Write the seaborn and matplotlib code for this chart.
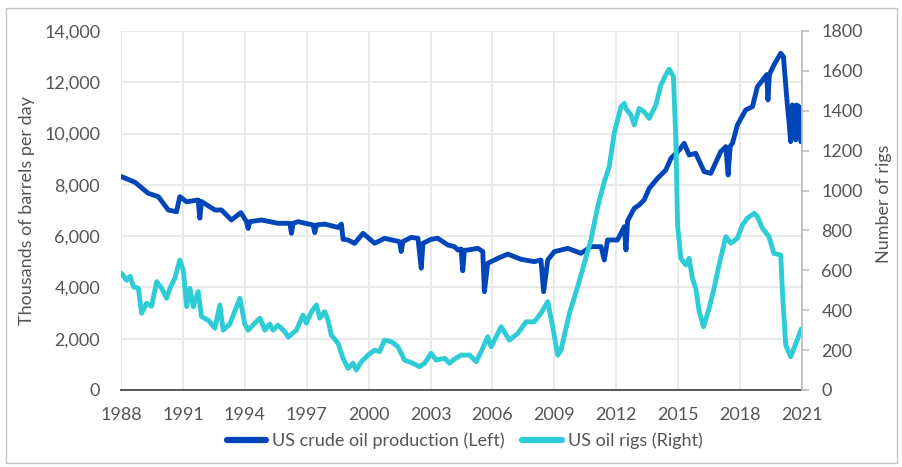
import matplotlib
matplotlib.use("Agg")
import matplotlib.pyplot as plt
import seaborn as sns
import pandas as pd
from matplotlib.patches import Rectangle
from matplotlib.ticker import FuncFormatter
from matplotlib.lines import Line2D

# ---- data ----
prod_year = [1988.03, 1988.68, 1989.32, 1989.81, 1990.29, 1990.69, 1990.85, 1991.18,
             1991.74, 1991.82, 1991.90, 1992.55, 1992.87, 1993.35, 1993.81, 1994.08,
             1994.16, 1994.24, 1994.81, 1995.61, 1995.94, 1996.18, 1996.26, 1996.34,
             1996.58, 1997.31, 1997.39, 1997.47, 1997.87, 1998.52, 1998.68, 1998.76,
             1999.00, 1999.32, 1999.73, 2000.29, 2000.77, 2001.50, 2001.58, 2001.66,
             2002.06, 2002.39, 2002.55, 2002.63, 2003.03, 2003.35, 2003.84, 2004.16,
             2004.32, 2004.48, 2004.56, 2004.64, 2004.81, 2005.29, 2005.53, 2005.61,
             2005.77, 2006.26, 2006.74, 2007.39, 2008.03, 2008.35, 2008.48, 2008.68,
             2009.00, 2009.65, 2010.29, 2010.77, 2011.26, 2011.42, 2011.58, 2012.06,
             2012.39, 2012.47, 2012.55, 2012.87, 2013.11, 2013.35, 2013.60, 2014.00,
             2014.40, 2014.65, 2015.05, 2015.29, 2015.53, 2015.85, 2016.26, 2016.58,
             2017.06, 2017.31, 2017.42, 2017.52, 2017.63, 2017.87, 2018.27, 2018.60,
             2018.84, 2019.16, 2019.29, 2019.35, 2019.42, 2019.64, 2019.97, 2020.10,
             2020.29, 2020.37, 2020.45, 2020.53, 2020.65, 2020.69, 2020.74, 2020.85,
             2020.94]
prod_kbd = [8320, 8100, 7670, 7540, 7020, 6950, 7540, 7340,
            7410, 6700, 7350, 7020, 7020, 6630, 6915, 6565,
            6300, 6565, 6630, 6500, 6500, 6500, 6110, 6500,
            6565, 6435, 6140, 6435, 6470, 6340, 6470, 5880,
            5850, 5720, 6110, 5720, 5915, 5785, 5400, 5785,
            5950, 5915, 4750, 5720, 5880, 5915, 5655, 5590,
            5460, 5500, 4650, 5450, 5460, 5525, 5400, 3835,
            4940, 5135, 5300, 5095, 5005, 5070, 3835, 5070,
            5395, 5525, 5330, 5590, 5590, 5070, 5850, 5850,
            6370, 5460, 6600, 7085, 7215, 7410, 7865, 8256,
            8580, 9036, 9360, 9620, 9165, 9230, 8515, 8450,
            9295, 9490, 8385, 9500, 9620, 10335, 10920, 11050,
            11830, 12155, 12300, 11310, 12300, 12675, 13130, 13000,
            11115, 10465, 9685, 11115, 11000, 9750, 11115, 11050,
            9685]

rig_year = [1988.03, 1988.27, 1988.44, 1988.60, 1988.84, 1989.00, 1989.24, 1989.48,
            1989.73, 1989.97, 1990.21, 1990.37, 1990.61, 1990.85, 1991.02, 1991.18,
            1991.34, 1991.50, 1991.74, 1991.90, 1992.23, 1992.55, 1992.79, 1992.95,
            1993.27, 1993.76, 1994.00, 1994.16, 1994.48, 1994.73, 1994.97, 1995.21,
            1995.37, 1995.61, 1995.94, 1996.10, 1996.50, 1996.82, 1996.98, 1997.23,
            1997.47, 1997.63, 1997.87, 1998.03, 1998.19, 1998.52, 1998.76, 1999.00,
            1999.24, 1999.40, 1999.65, 1999.97, 2000.29, 2000.53, 2000.77, 2001.10,
            2001.42, 2001.74, 2002.14, 2002.47, 2002.71, 2003.03, 2003.27, 2003.68,
            2003.92, 2004.16, 2004.48, 2004.89, 2005.21, 2005.45, 2005.77, 2005.94,
            2006.42, 2006.82, 2007.23, 2007.63, 2008.03, 2008.35, 2008.68, 2008.92,
            2009.16, 2009.32, 2009.73, 2010.13, 2010.45, 2010.77, 2011.10, 2011.42,
            2011.66, 2011.90, 2012.23, 2012.39, 2012.47, 2012.71, 2012.87, 2013.11,
            2013.35, 2013.60, 2013.92, 2014.16, 2014.40, 2014.56, 2014.77, 2014.89,
            2014.97, 2015.13, 2015.37, 2015.53, 2015.69, 2015.85, 2016.02, 2016.23,
            2016.50, 2016.74, 2016.98, 2017.31, 2017.55, 2017.87, 2018.11, 2018.35,
            2018.68, 2018.84, 2019.08, 2019.40, 2019.64, 2019.97, 2020.05, 2020.21,
            2020.45, 2020.61, 2020.97]
rig_count = [585, 550, 570, 518, 510, 385, 435, 420,
             543, 510, 460, 510, 560, 652, 600, 418,
             510, 418, 493, 368, 350, 310, 426, 300,
             330, 460, 330, 300, 335, 360, 300, 330,
             300, 325, 292, 265, 300, 376, 335, 393,
             426, 360, 393, 350, 276, 234, 159, 109,
             134, 100, 142, 175, 200, 192, 250, 242,
             217, 150, 134, 117, 134, 184, 150, 159,
             134, 155, 175, 175, 142, 192, 267, 217,
             317, 250, 284, 342, 342, 385, 443, 317,
             175, 200, 385, 518, 635, 752, 919, 1044,
             1120, 1287, 1420, 1437, 1410, 1379, 1329, 1412,
             1395, 1362, 1429, 1529, 1579, 1609, 1571, 1245,
             827, 660, 627, 660, 560, 510, 393, 317,
             410, 510, 627, 769, 736, 761, 827, 861,
             886, 869, 811, 769, 685, 677, 493, 226,
             167, 209, 306]

x_ticks = [1988, 1991, 1994, 1997, 2000, 2003, 2006, 2009, 2012, 2015, 2018, 2021]
left_ticks = [0, 2000, 4000, 6000, 8000, 10000, 12000, 14000]
right_ticks = [0, 200, 400, 600, 800, 1000, 1200, 1400, 1600, 1800]

prod_label = "US crude oil production (Left)"
rig_label = "US oil rigs (Right)"

df_prod = pd.DataFrame({"year": prod_year, "value": prod_kbd})
df_rig = pd.DataFrame({"year": rig_year, "value": rig_count})

# ---- styling ----
sns.set_theme(style="white")
plt.rcParams["font.family"] = ["Lato", "DejaVu Sans"]
TXT = "#555555"
BLUE = "#0046B8"
CYAN = "#2ECDD5"

W, H = 902, 467
fig = plt.figure(figsize=(W / 100, H / 100), dpi=100)
ax = fig.add_axes([121 / W, 1 - 390 / H, (802 - 121) / W, (390 - 31) / H])

sns.lineplot(data=df_prod, x="year", y="value", ax=ax, color=BLUE, lw=3.5,
             estimator=None, sort=False, legend=False)
ax.set_xlim(1988, 2021)
ax.set_ylim(0, 14000)
ax.set_xticks(x_ticks)
ax.set_yticks(left_ticks)
ax.yaxis.set_major_formatter(FuncFormatter(lambda v, p: f"{int(v):,}"))
ax.grid(True, color="#e6e8e8", lw=1.3)
ax.set_axisbelow(True)
for s in ["top", "left", "right"]:
    ax.spines[s].set_visible(False)
ax.spines["bottom"].set_color("#555555")
ax.spines["bottom"].set_linewidth(1.4)
ax.tick_params(axis="x", length=0, pad=12, labelsize=13, labelcolor=TXT)
ax.tick_params(axis="y", length=0, pad=15, labelsize=13, labelcolor=TXT)
ax.set_xlabel("")
ax.set_ylabel("Thousands of barrels per day", fontsize=13, color=TXT)
ax.yaxis.set_label_coords(-0.127, 0.5)

ax2 = ax.twinx()
sns.lineplot(data=df_rig, x="year", y="value", ax=ax2, color=CYAN, lw=3.5,
             estimator=None, sort=False, legend=False)
ax2.set_ylim(0, 1800)
ax2.set_yticks(right_ticks)
ax2.grid(False)
for s in ["top", "left", "bottom"]:
    ax2.spines[s].set_visible(False)
ax2.spines["right"].set_color("#bdbdbd")
ax2.spines["right"].set_linewidth(1.3)
ax2.tick_params(axis="y", direction="out", length=5, width=1.2, color="#bdbdbd",
                pad=9, labelsize=13, labelcolor=TXT)
ax2.set_ylabel("Number of rigs", fontsize=13, color=TXT, rotation=90)
ax2.yaxis.set_label_coords(1.108, 0.52)

handles = [Line2D([0], [0], color=BLUE, lw=4.5), Line2D([0], [0], color=CYAN, lw=4.5)]
fig.legend(handles, [prod_label, rig_label], loc="center",
           bbox_to_anchor=(0.515, 1 - 441 / H), ncol=2, frameon=False,
           fontsize=13, handlelength=2.2, handletextpad=0.3, columnspacing=1.0,
           labelcolor=TXT)

fig.patches.append(Rectangle((6 / W, 1 - 463 / H), (897 - 6) / W, (463 - 8) / H,
                             transform=fig.transFigure, fill=False,
                             edgecolor="#c4c4c4", lw=1.0))

fig.savefig("out.png", dpi=100)
